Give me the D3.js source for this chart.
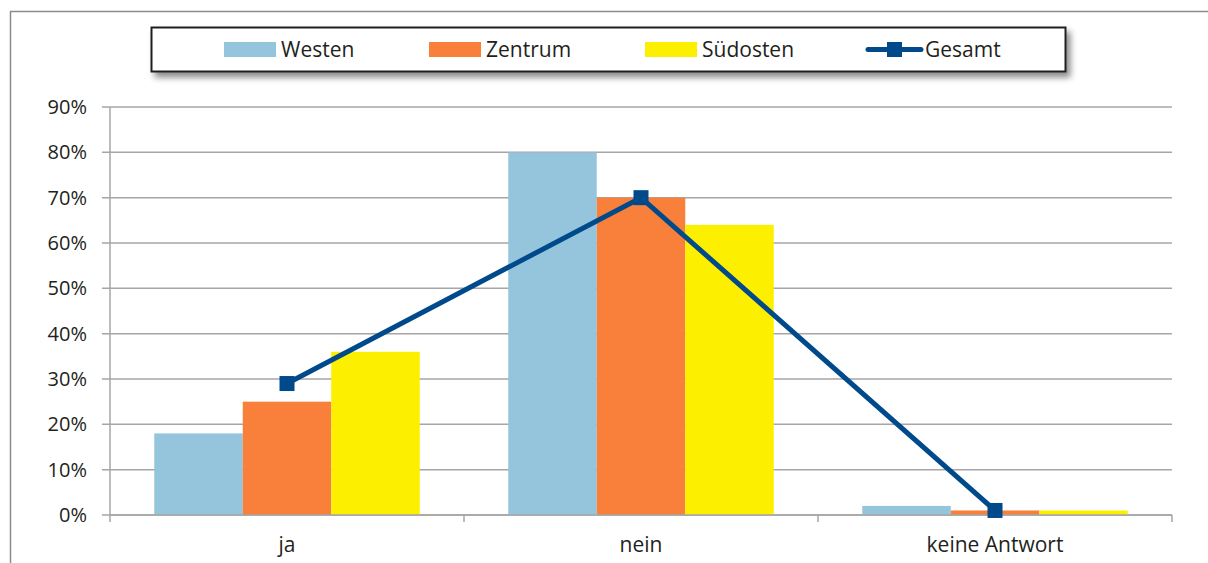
<!DOCTYPE html>
<html>
<head>
<meta charset="utf-8">
<script src="https://cdn.jsdelivr.net/npm/d3@7.9.0/dist/d3.min.js"></script>
<style>
  body { margin: 0; background: #fff; }
  svg text { font-family: "Open Sans", "Noto Sans", sans-serif; fill: #231f20; }
</style>
</head>
<body>
<svg id="chart" width="1208" height="563"></svg>
<script>
const categories = ['ja', 'nein', 'keine Antwort'];
const westen = [18, 80, 2];
const zentrum = [25, 70, 1];
const suedosten = [36, 64, 1];
const gesamt = [29, 70, 1];
const yTicks = [0, 10, 20, 30, 40, 50, 60, 70, 80, 90];

const seriesNames = ['Westen', 'Zentrum', 'Südosten'];
const seriesValues = [westen, zentrum, suedosten];
const colors = ['#95c5dd', '#f8803a', '#fcef00'];
const lineColor = '#004a8c';

const svg = d3.select('#chart');

// outer frame
svg.append('path')
  .attr('d', 'M10.5,563 V11.5 H1208')
  .attr('fill', 'none')
  .attr('stroke', '#8c8c8c')
  .attr('stroke-width', 1.5);

const x = d3.scaleBand().domain(categories).range([110, 1172]);
const xs = d3.scaleBand().domain(seriesNames).range([0, x.bandwidth()]).paddingOuter(0.5);
const y = d3.scaleLinear().domain([0, 90]).range([515, 107]);

// gridlines
svg.append('g')
  .selectAll('line')
  .data(yTicks)
  .join('line')
  .attr('x1', 102).attr('x2', 1172)
  .attr('y1', d => y(d)).attr('y2', d => y(d))
  .attr('stroke', '#a6a6a6').attr('stroke-width', 1.5);

// y labels
svg.append('g')
  .selectAll('text')
  .data(yTicks)
  .join('text')
  .attr('x', 87).attr('y', d => y(d) + 7)
  .attr('text-anchor', 'end')
  .attr('font-size', 20)
  .text(d => d + '%');

// bars
seriesNames.forEach((name, si) => {
  svg.append('g')
    .selectAll('rect')
    .data(categories)
    .join('rect')
    .attr('x', (c) => x(c) + xs(name))
    .attr('width', xs.bandwidth())
    .attr('y', (c, i) => y(seriesValues[si][i]))
    .attr('height', (c, i) => y(0) - y(seriesValues[si][i]))
    .attr('fill', colors[si]);
});

// axes lines
svg.append('line')
  .attr('x1', 110).attr('x2', 110).attr('y1', y(90)).attr('y2', 515)
  .attr('stroke', '#a6a6a6').attr('stroke-width', 1.5);
svg.append('line')
  .attr('x1', 110).attr('x2', 1172).attr('y1', 515).attr('y2', 515)
  .attr('stroke', '#a6a6a6').attr('stroke-width', 1.5);
svg.append('g')
  .selectAll('line')
  .data(categories.map(c => x(c)).concat([x.range()[1]]))
  .join('line')
  .attr('x1', d => d).attr('x2', d => d)
  .attr('y1', 515).attr('y2', 522)
  .attr('stroke', '#a6a6a6').attr('stroke-width', 1.5);

// category labels
svg.append('g')
  .selectAll('text')
  .data(categories)
  .join('text')
  .attr('x', d => x(d) + x.bandwidth() / 2)
  .attr('y', 552)
  .attr('text-anchor', 'middle')
  .attr('font-size', 21)
  .text(d => d);

// Gesamt line
const line = d3.line()
  .x((d, i) => x(categories[i]) + x.bandwidth() / 2)
  .y(d => y(d));
svg.append('path')
  .datum(gesamt)
  .attr('d', line)
  .attr('fill', 'none')
  .attr('stroke', lineColor)
  .attr('stroke-width', 5);
svg.append('g')
  .selectAll('rect')
  .data(gesamt)
  .join('rect')
  .attr('x', (d, i) => x(categories[i]) + x.bandwidth() / 2 - 7.5)
  .attr('y', d => y(d) - 7.5)
  .attr('width', 15).attr('height', 15)
  .attr('fill', lineColor);

// legend
const defs = svg.append('defs');
const f = defs.append('filter').attr('id', 'shadow')
  .attr('x', '-5%').attr('y', '-20%').attr('width', '115%').attr('height', '160%');
f.append('feDropShadow').attr('dx', 4).attr('dy', 5).attr('stdDeviation', 3)
  .attr('flood-color', '#000').attr('flood-opacity', 0.45);

const legend = svg.append('g');
legend.append('rect')
  .attr('x', 151.5).attr('y', 27.5).attr('width', 914).attr('height', 44)
  .attr('fill', '#fff').attr('stroke', '#231f20').attr('stroke-width', 2)
  .attr('filter', 'url(#shadow)');

const legendX = [224, 429, 645];
seriesNames.forEach((name, i) => {
  legend.append('rect')
    .attr('x', legendX[i]).attr('y', 42).attr('width', 52).attr('height', 15)
    .attr('fill', colors[i]);
  legend.append('text')
    .attr('x', legendX[i] + 57).attr('y', 57)
    .attr('font-size', 21)
    .text(name);
});
legend.append('line')
  .attr('x1', 868).attr('x2', 921).attr('y1', 49.5).attr('y2', 49.5)
  .attr('stroke', lineColor).attr('stroke-width', 5).attr('stroke-linecap', 'round');
legend.append('rect')
  .attr('x', 887).attr('y', 42).attr('width', 15).attr('height', 15)
  .attr('fill', lineColor);
legend.append('text')
  .attr('x', 925).attr('y', 57)
  .attr('font-size', 21)
  .text('Gesamt');
</script>
</body>
</html>
